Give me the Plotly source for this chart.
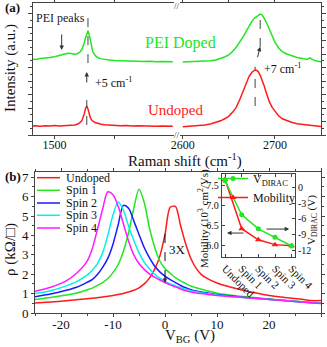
import plotly.graph_objects as go

W, H = 327, 347
FONT = "Liberation Serif, Times New Roman, serif"

# ---------------- Panel (a): Raman spectra ----------------
raman_left_x = [1482, 1484, 1488, 1492, 1496, 1500, 1504, 1508, 1511, 1514, 1517, 1519, 1521, 1523,
                1524, 1525, 1526, 1527, 1528, 1529, 1530, 1531, 1532, 1534, 1536, 1539, 1542, 1546,
                1550, 1555, 1560, 1565, 1570, 1575, 1580, 1585, 1590, 1595, 1599]
undoped_left = [0.66, 0.68, 0.65, 0.69, 0.67, 0.70, 0.66, 0.69, 0.68, 0.71, 0.74, 0.80, 0.90, 1.08,
                1.28, 1.60, 1.98, 2.15, 1.92, 1.55, 1.28, 1.12, 1.02, 0.92, 0.86, 0.80, 0.76, 0.72,
                0.70, 0.68, 0.70, 0.66, 0.68, 0.65, 0.67, 0.64, 0.66, 0.63, 0.65]
doped_left = [5.62, 5.60, 5.66, 5.68, 5.74, 5.80, 5.88, 5.98, 6.06, 6.04, 5.98, 6.02, 6.12, 6.35,
              6.55, 6.85, 7.20, 7.55, 7.72, 7.45, 6.95, 6.50, 6.18, 5.90, 5.74, 5.64, 5.58, 5.55,
              5.52, 5.50, 5.48, 5.50, 5.46, 5.44, 5.46, 5.42, 5.44, 5.40, 5.42]

raman_right_x = [2600, 2606, 2612, 2618, 2624, 2630, 2636, 2641, 2646, 2650, 2654, 2658, 2662, 2666,
                 2669, 2672, 2675, 2678, 2680, 2682, 2684, 2686, 2688, 2691, 2694, 2697, 2700, 2704,
                 2708, 2713, 2718, 2724, 2730, 2735, 2738, 2741, 2745, 2750]
undoped_right = [0.62, 0.64, 0.66, 0.68, 0.74, 0.82, 0.92, 1.05, 1.22, 1.40, 1.68, 2.05, 2.65, 3.35,
                 3.90, 4.35, 4.65, 4.80, 4.80, 4.68, 4.42, 4.08, 3.70, 3.05, 2.45, 2.05, 1.75, 1.42,
                 1.20, 1.04, 0.94, 0.84, 0.78, 0.73, 0.70, 0.68, 0.64, 0.62]
doped_right = [5.41, 5.43, 5.40, 5.44, 5.46, 5.50, 5.56, 5.66, 5.80, 5.94, 6.18, 6.50, 6.88, 7.32,
               7.70, 8.08, 8.42, 8.66, 8.78, 8.88, 8.96, 8.90, 8.70, 8.30, 7.80, 7.30, 6.88, 6.45,
               6.18, 6.00, 5.86, 5.74, 5.66, 5.60, 5.72, 5.58, 5.48, 5.42]

# ---------------- Panel (b): resistivity vs gate ----------------
vbg = [-25, -22, -19, -17, -15, -14, -13, -12, -11, -10, -9, -8, -7, -6, -5, -4, -3, -2, -1, 0,
       1, 2, 3, 4, 5, 6, 7, 8, 10, 12, 14, 17, 20, 23, 26, 28, 30]
rho_undoped = [0.52, 0.57, 0.63, 0.68, 0.73, 0.76, 0.79, 0.82, 0.86, 0.90, 0.95, 1.01, 1.08, 1.17,
               1.30, 1.50, 1.80, 2.25, 2.92, 4.05, 5.45, 5.50, 4.50, 3.55, 2.80, 2.30, 1.98, 1.80,
               1.55, 1.38, 1.24, 1.06, 0.90, 0.80, 0.72, 0.64, 0.64]
rho_spin1 = [0.69, 0.80, 0.93, 1.03, 1.19, 1.28, 1.42, 1.57, 1.78, 2.08, 2.50, 3.18, 4.15, 5.40,
             6.38, 5.70, 4.40, 3.40, 2.68, 2.30, 2.05, 1.82, 1.66, 1.52, 1.39, 1.30, 1.22, 1.15,
             1.02, 0.94, 0.88, 0.80, 0.72, 0.65, 0.59, 0.55, 0.51]
rho_spin2 = [0.84, 0.98, 1.17, 1.33, 1.58, 1.72, 1.98, 2.35, 2.82, 3.55, 4.55, 5.55, 5.40, 4.75,
             4.05, 3.38, 2.85, 2.42, 2.12, 1.90, 1.72, 1.57, 1.42, 1.30, 1.20, 1.13, 1.08, 1.04,
             0.95, 0.90, 0.84, 0.77, 0.71, 0.64, 0.57, 0.53, 0.49]
rho_spin3 = [1.00, 1.15, 1.40, 1.62, 1.95, 2.20, 2.55, 3.10, 4.00, 5.05, 5.72, 5.30, 4.47, 3.75,
             3.10, 2.62, 2.28, 2.00, 1.80, 1.63, 1.50, 1.40, 1.30, 1.22, 1.15, 1.10, 1.05, 1.01,
             0.93, 0.87, 0.82, 0.76, 0.70, 0.64, 0.58, 0.54, 0.50]
rho_spin4 = [1.12, 1.33, 1.66, 2.05, 2.66, 3.30, 4.30, 5.35, 6.25, 6.10, 5.50, 4.60, 3.70, 3.00,
             2.55, 2.25, 2.02, 1.85, 1.70, 1.57, 1.45, 1.35, 1.24, 1.15, 1.08, 1.03, 1.00, 0.97,
             0.90, 0.86, 0.82, 0.76, 0.70, 0.64, 0.58, 0.53, 0.50]
series_names = ["Undoped", "Spin 1", "Spin 2", "Spin 3", "Spin 4"]
series_colors = ["#ff1a1a", "#22e622", "#1a1aff", "#00f0f0", "#ff1aff"]

# ---------------- Inset ----------------
inset_labels = ["Undoped", "Spin 1", "Spin 2", "Spin 3", "Spin 4"]
inset_pos = [0, 1, 2, 3, 4]
mobility = [7.64, 6.41, 6.13, 6.01, 5.98]
v_dirac = [1.3, -5.2, -7.9, -9.5, -11.2]


def px(x):
    return x / W


def py(y):
    return 1 - y / H


fig = go.Figure()
RED, GREEN = "#ff1a1a", "#22e622"

fig.add_trace(go.Scatter(x=raman_left_x, y=undoped_left, mode="lines", line=dict(color=RED, width=1.5),
                         xaxis="x", yaxis="y", showlegend=False))
fig.add_trace(go.Scatter(x=raman_left_x, y=doped_left, mode="lines", line=dict(color=GREEN, width=1.5),
                         xaxis="x", yaxis="y", showlegend=False))
fig.add_trace(go.Scatter(x=raman_right_x, y=undoped_right, mode="lines", line=dict(color=RED, width=1.5),
                         xaxis="x2", yaxis="y2", showlegend=False))
fig.add_trace(go.Scatter(x=raman_right_x, y=doped_right, mode="lines", line=dict(color=GREEN, width=1.5),
                         xaxis="x2", yaxis="y2", showlegend=False))

for name, vals, col in zip(series_names, [rho_undoped, rho_spin1, rho_spin2, rho_spin3, rho_spin4],
                           series_colors):
    fig.add_trace(go.Scatter(x=vbg, y=vals, mode="lines", name=name,
                             line=dict(color=col, width=1.5, shape="spline", smoothing=0.8),
                             xaxis="x3", yaxis="y3", showlegend=False))

fig.add_trace(go.Scatter(x=inset_pos, y=v_dirac, mode="lines+markers", name="V<sub>DIRAC</sub>",
                         line=dict(color=GREEN, width=1.5), marker=dict(symbol="circle", size=5, color=GREEN),
                         xaxis="x4", yaxis="y5"))
fig.add_trace(go.Scatter(x=inset_pos, y=mobility, mode="lines+markers", name="Mobility",
                         line=dict(color=RED, width=1.5), marker=dict(symbol="triangle-up", size=6, color=RED),
                         xaxis="x4", yaxis="y4"))

AX = "#444"
tickfont_a = dict(family=FONT, size=12, color="#111")
tickfont_b = dict(family=FONT, size=13, color="#111")
tickfont_i = dict(family=FONT, size=10, color="#111")

a_ydom = [py(135), py(3)]
fig.update_layout(
    width=W, height=H, margin=dict(l=0, r=0, t=0, b=0, autoexpand=False),
    paper_bgcolor="white", plot_bgcolor="rgba(0,0,0,0)",
    font=dict(family=FONT, color="#111"),
    xaxis=dict(domain=[px(33), px(174)], range=[1482, 1600], anchor="y", automargin=False,
               tickvals=[1500, 1550], ticktext=["1500", ""], ticks="outside", ticklen=3,
               ticklabelstandoff=-4,
               showline=True, linecolor=AX, mirror="ticks", showgrid=False, zeroline=False,
               tickfont=tickfont_a),
    yaxis=dict(domain=a_ydom, range=[0, 9.78], anchor="x", dtick=1, ticks="outside", ticklen=4,
               automargin=False,
               showticklabels=False, showline=True, linecolor=AX, mirror=False, showgrid=False,
               zeroline=False, minor=dict(dtick=0.5, ticks="outside", ticklen=2)),
    xaxis2=dict(domain=[px(180), px(321)], range=[2597, 2750], anchor="y2", automargin=False,
                tickvals=[2600, 2650, 2700], ticktext=["2600", "", "2700"], ticks="outside", ticklen=3,
                ticklabelstandoff=-4,
                showline=True, linecolor=AX, mirror="ticks", showgrid=False, zeroline=False,
                tickfont=tickfont_a),
    yaxis2=dict(domain=a_ydom, range=[0, 9.78], anchor="x2", side="right", dtick=1, ticks="outside",
                automargin=False,
                ticklen=4, showticklabels=False, showline=True, linecolor=AX, mirror=False,
                showgrid=False, zeroline=False, minor=dict(dtick=0.5, ticks="outside", ticklen=2)),
    xaxis3=dict(domain=[px(35), px(321)], range=[-25, 30], anchor="y3", automargin=False,
                tickvals=[-20, -10, 0, 10, 20, 30], ticktext=["-20", "-10", "0", "10", "20", "30"],
                ticks="outside", ticklen=3, showline=True, linecolor=AX, mirror="ticks",
                ticklabelstandoff=-4,
                showgrid=False, zeroline=False, tickfont=tickfont_b,
                minor=dict(tickvals=[-25, -15, -5, 5, 15, 25], ticks="outside", ticklen=2)),
    yaxis3=dict(domain=[py(313), py(172)], range=[0, 7.27], anchor="x3", automargin=False,
                tickvals=[0, 1, 2, 3, 4, 5, 6, 7], ticks="outside", ticklen=3, showline=True,
                linecolor=AX, mirror="ticks", showgrid=False, zeroline=False, tickfont=tickfont_b,
                minor=dict(dtick=0.5, ticks="outside", ticklen=2)),
    xaxis4=dict(domain=[px(221.7), px(295)], range=[-0.2, 4.2], anchor="y4", automargin=False,
                tickvals=inset_pos, ticktext=inset_labels, tickangle=45, ticks="inside", ticklen=3,
                showline=True, linecolor=AX, mirror="ticks", showgrid=False, zeroline=False,
                tickfont=dict(family=FONT, size=11, color="#111")),
    yaxis4=dict(domain=[py(257), py(174)], range=[5.7, 7.78], anchor="x4", automargin=False,
                tickvals=[6.0, 6.5, 7.0, 7.5], ticktext=["6.0", "6.5", "7.0", "7.5"],
                ticks="inside", ticklen=3, showline=True, linecolor=AX, mirror=False,
                showgrid=False, zeroline=False, tickfont=tickfont_i),
    yaxis5=dict(overlaying="y4", side="right", anchor="x4", range=[-13.3, 2.6], automargin=False,
                tickvals=[0, -3, -6, -9, -12], ticktext=["0", "-3", "-6", "-9", "-12"],
                ticks="inside", ticklen=3, showline=True, linecolor=AX, showgrid=False,
                zeroline=False, tickfont=tickfont_i),
    legend=dict(x=px(213), y=py(164), xanchor="left", yanchor="top", bgcolor="rgba(0,0,0,0)",
                font=dict(family=FONT, size=12, color="#111"), tracegroupgap=0, itemwidth=30),
)

ann = []


def text(x, y, t, size=12, color="#111", xanchor="center", angle=0, bold=False):
    if bold:
        t = "<b>" + t + "</b>"
    ann.append(dict(x=px(x), y=py(y), xref="paper", yref="paper", text=t, showarrow=False,
                    xanchor=xanchor, yanchor="middle", textangle=angle,
                    font=dict(family=FONT, size=size, color=color)))


text(3, 8, "(a)", 13, xanchor="left", bold=True)
text(3, 176, "(b)", 13, xanchor="left", bold=True)
text(10, 68, "Intensity (a.u.)", 15, angle=-90)
text(185, 160, "Raman shift (cm<sup>-1</sup>)", 15)
text(10, 250, "ρ (kΩ/□)", 15, angle=-90)
text(190, 336, "V<sub>BG</sub> (V)", 15)
text(180, 43, "PEI Doped", 16, color=GREEN)
text(176, 110, "Undoped", 15, color=RED)
text(60, 18, "PEI peaks", 12, color="#222")
text(93, 82, "+5 cm<sup>-1</sup>", 12, xanchor="left")
text(262, 68, "+7 cm<sup>-1</sup>", 12, xanchor="left")
text(177, 6, "//", 9, color="#333")
text(177, 135, "//", 9, color="#333")
text(167, 249, "3X", 13, xanchor="left")
text(203, 219, "Mobility (10<sup>3</sup> cm<sup>2</sup>/Vs)", 11, angle=-90)
text(312, 220, "V<sub>DIRAC</sub> (V)", 11, angle=-90)

# arrows
arr = dict(showarrow=True, arrowhead=2, arrowsize=0.9, arrowwidth=1, arrowcolor="#333", text="")
ann.append(dict(x=1506, y=6.3, xref="x", yref="y", ax=0, ay=-17, **arr))
ann.append(dict(x=1527, y=4.67, xref="x", yref="y", ax=0, ay=12, **arr))
ann.append(dict(x=2684, y=6.54, xref="x2", yref="y2", ax=-3, ay=12, **arr))
ann.append(dict(x=0, y=1.55, xref="x3", yref="y3", ax=0, ay=-8, **arr))
ann.append(dict(x=0.12, y=6.3, xref="x4", yref="y4", ax=1.2, ay=6.3, axref="x4", ayref="y4", **arr))
ann.append(dict(x=3.85, y=6.4, xref="x4", yref="y4", ax=2.4, ay=6.4, axref="x4", ayref="y4", **arr))

# main legend (b)
leg_y = [177.7, 190.3, 203, 215.3, 228]
shapes = []
for name, col, yy in zip(series_names, series_colors, leg_y):
    shapes.append(dict(type="line", xref="paper", yref="paper", x0=px(37), x1=px(60), y0=py(yy), y1=py(yy),
                       line=dict(color=col, width=1.5)))
    text(64, yy, name, 12, xanchor="left")

dash = dict(color="#444", width=1, dash="dash")
shapes += [
    dict(type="line", xref="x", yref="y", x0=1528, x1=1528, y0=5.33, y1=8.74, line=dash),
    dict(type="line", xref="x", yref="y", x0=1527, x1=1527, y0=0.74, y1=2.59, line=dash),
    dict(type="line", xref="x2", yref="y2", x0=2684, x1=2684, y0=6.52, y1=9.19, line=dash),
    dict(type="line", xref="x2", yref="y2", x0=2678.5, x1=2678.5, y0=2.15, y1=5.06, line=dash),
    dict(type="line", xref="x3", yref="y3", x0=0, x1=0, y0=1.75, y1=4.47, line=dict(color="#111", width=1, dash="dash")),
]

fig.update_layout(annotations=ann, shapes=shapes)
fig.write_html("out.html", config={"displayModeBar": False},
               post_script="document.body.style.margin='0';document.body.style.padding='0';")
